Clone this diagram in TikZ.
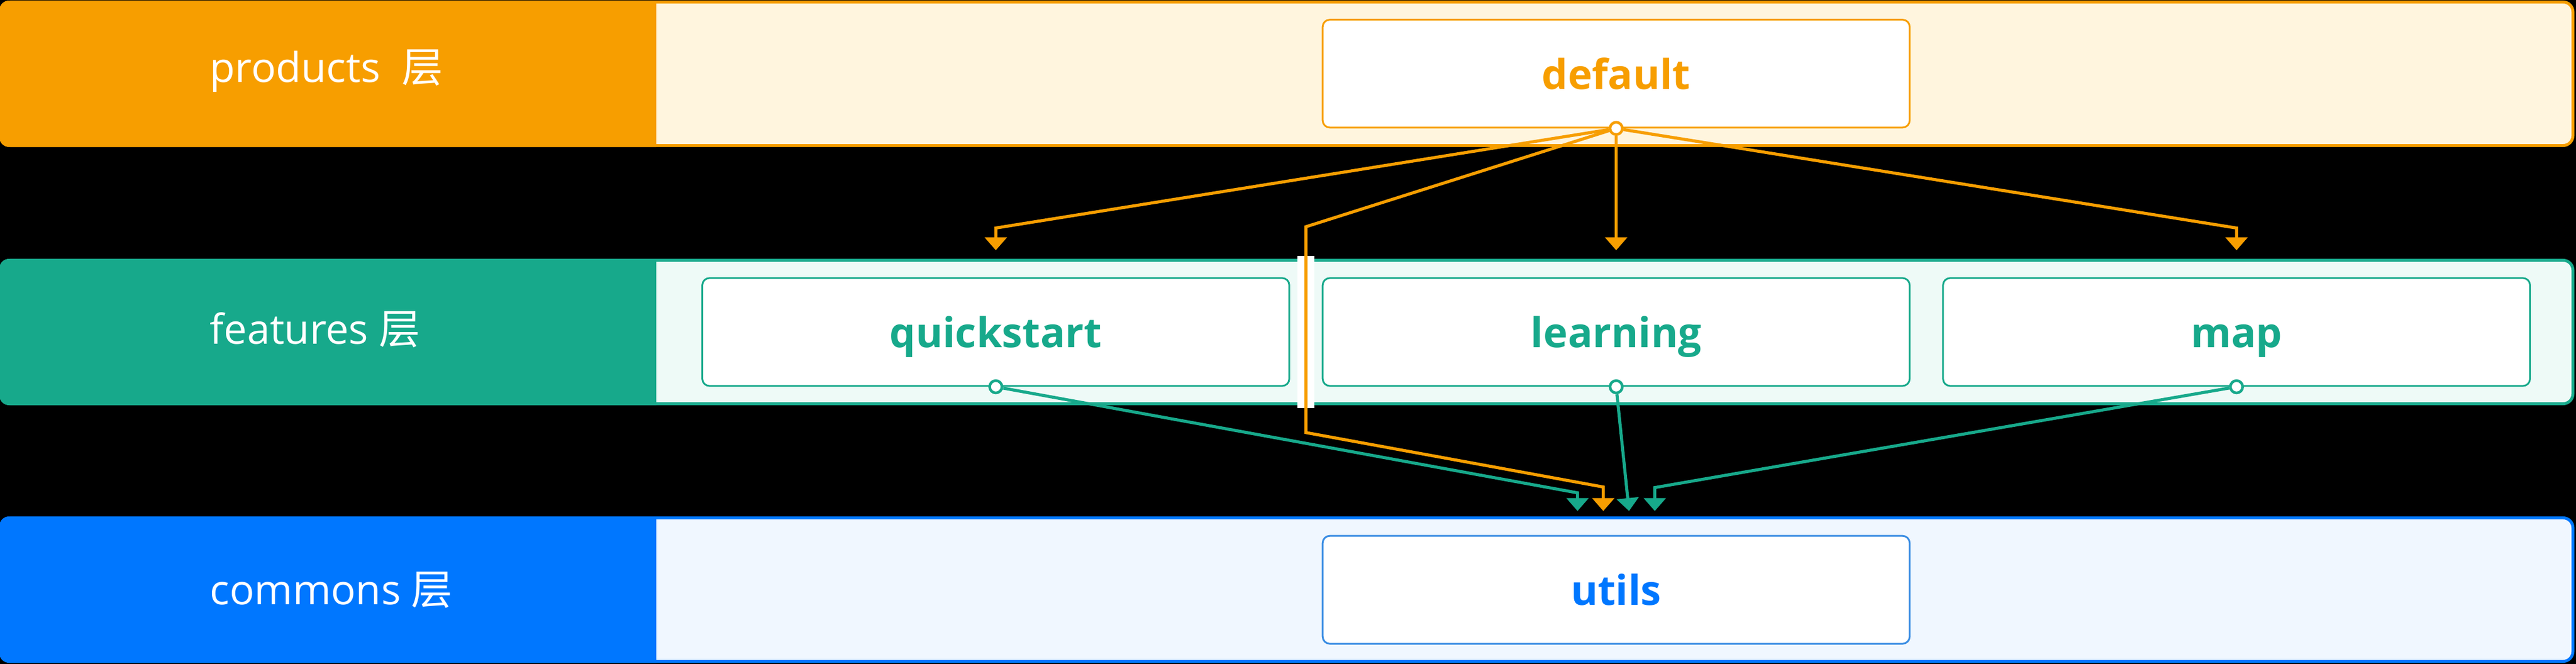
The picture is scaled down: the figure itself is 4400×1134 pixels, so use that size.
\documentclass[tikz,border=0pt]{standalone}
\usepackage{fontspec}
\setmainfont{Open Sans}
\newfontfamily\cjk{Noto Sans CJK SC}
\usetikzlibrary{arrows.meta,positioning,calc}
\definecolor{cprod}{HTML}{F79E00}
\definecolor{cprodlight}{HTML}{FFF5DE}
\definecolor{cfeat}{HTML}{17A98B}
\definecolor{cfeatlight}{HTML}{EEFAF7}
\definecolor{ccomm}{HTML}{0077FF}
\definecolor{ccommlight}{HTML}{F0F7FF}
\definecolor{cutils}{HTML}{3A8DE3}
\tikzset{layer/.style={rectangle, rounded corners=0.17cm, line width=0.05cm,
    minimum width=43.91cm, minimum height=2.45cm, inner sep=0pt}, }
\tikzset{layer label/.style={anchor=west, text=white, inner sep=0pt,
    text height=0.52cm, text depth=0.15cm, font=\fontsize{20pt}{24pt}\selectfont}, }
\tikzset{module/.style={rectangle, draw, fill=white, rounded corners=0.12cm, line width=0.03cm,
    minimum width=10.02cm, minimum height=1.84cm, inner sep=0pt,
    text height=0.53cm, text depth=0pt, font=\fontsize{20pt}{24pt}\selectfont\bfseries}, }
\tikzset{port/.style={circle, draw, fill=white, line width=0.045cm, minimum size=0.21cm, inner sep=0pt}, }
\tikzset{bridge/.style={rectangle, fill=white, minimum width=0.29cm, minimum height=2.6cm, inner sep=0pt}, }
\tikzset{linea/.style={-{Triangle[width=0.37cm,length=0.22cm]}, line width=0.052cm, draw}}

\begin{document}
\begin{tikzpicture}[x=0.01cm, y=-0.01cm]
  \fill[black] (0,0) rectangle (4400,1134);
  \useasboundingbox (0,0) rectangle (4400,1134);
  % layers
  \foreach \n/\y/\ly/\c/\l/\t in {products/126/121.5/cprod/cprodlight/{products\ \ {\cjk 层}},
      features/567/568.5/cfeat/cfeatlight/{features {\cjk 层}},
      commons/1007/1013.5/ccomm/ccommlight/{commons {\cjk 层}}} {
    \node[layer, draw=\c, fill=\l] (\n) at (2198,\y) {};
    \begin{scope}
      \clip[rounded corners=0.17cm] (\n.north west) rectangle (\n.south east);
      \fill[\c] (\n.north west) rectangle (1121,\y+126);
    \end{scope}
    \node[layer label] (\n-label) at (358,\ly) {\t};
  }
  % modules
  \node[module, draw=cfeat, text=cfeat] (learning) at (2760.5,567) {learning};
  \node[module, draw=cfeat, text=cfeat] (quickstart) [left=0.54cm of learning] {quickstart};
  \node[module, draw=cfeat, text=cfeat] (map) [right=0.54cm of learning] {map};
  \node[module, draw=cprod, text=cprod] (default) [above=2.54cm of learning] {default};
  \node[module, draw=cutils, text=ccomm] (utils) [below=2.53cm of learning] {utils};
  \node[bridge] (bridge) at ($(quickstart.east)!0.5!(learning.west)$) {};
  \foreach \n/\c in {default/cprod, quickstart/cfeat, learning/cfeat, map/cfeat}
    \node[port, draw=\c] (\n-port) at (\n.south) {};
  \foreach \n in {quickstart, learning, map}
    \coordinate[above=0.46cm of \n] (\n-in);
  \foreach \i/\dx in {1/-66, 2/-22, 3/22, 4/66}
    \coordinate (utils-in\i) at ($(utils.north)+(\dx,-41)$);
  % products -> features
  \path[linea, draw=cprod] (default-port) -- ($(quickstart-in)+(0,-38)$) -- (quickstart-in);
  \path[linea, draw=cprod] (default-port) -- (learning-in);
  \path[linea, draw=cprod] (default-port) -- ($(map-in)+(0,-38)$) -- (map-in);
  % products -> commons
  \path[linea, draw=cprod] (default-port) -- ($(bridge.north)+(0,-49)$) -- ($(bridge.south)+(0,41)$)
    -- ($(utils-in2)+(0,-41)$) -- (utils-in2);
  % features -> commons
  \path[linea, draw=cfeat] (quickstart-port) -- ($(utils-in1)+(0,-31)$) -- (utils-in1);
  \path[linea, draw=cfeat] (learning-port) -- (utils-in3);
  \path[linea, draw=cfeat] (map-port) -- ($(utils-in4)+(0,-40)$) -- (utils-in4);
\end{tikzpicture}
\end{document}
